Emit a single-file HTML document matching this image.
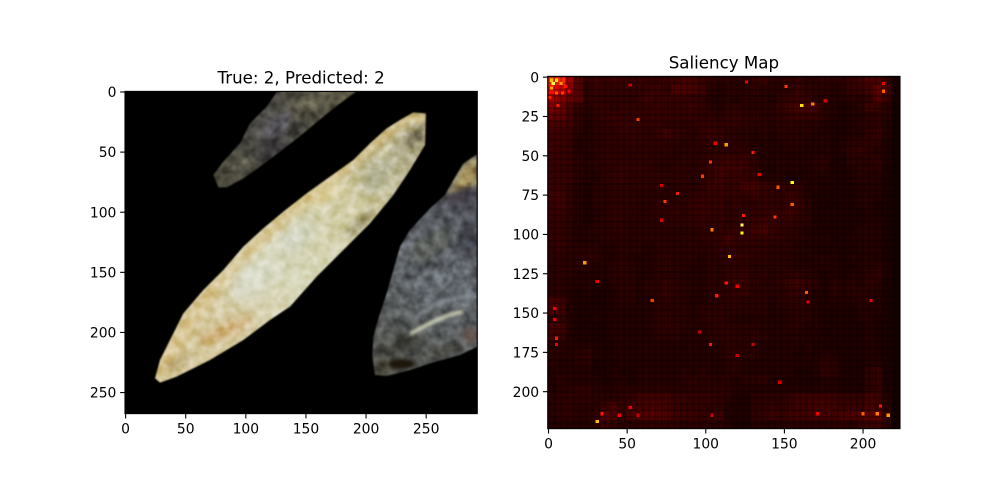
<!DOCTYPE html>
<html lang="en">
<head>
<meta charset="utf-8">
<title>True vs Predicted with Saliency Map</title>
<style>
html,body{margin:0;padding:0;background:#fff;width:1000px;height:500px;overflow:hidden}
svg{display:block}
text{font-family:"DejaVu Sans",sans-serif;fill:#000}
.mottle{mix-blend-mode:overlay}
</style>
</head>
<body>
<svg id="fig" xmlns="http://www.w3.org/2000/svg" width="1000" height="500" viewBox="0 0 1000 500">
<defs>
<clipPath id="clipL"><rect x="125" y="91.4" width="352.3" height="322.2"/></clipPath>
<clipPath id="clipMain"><path d="M135,895 150,908 200,890 300,840 400,780 480,720 540,680 620,590 700,510 780,430 850,345 900,270 945,195 948,100 910,97 870,120 830,145 780,190 730,240 660,290 590,340 520,395 460,445 400,500 340,570 280,630 220,700 180,780 150,840Z"/></clipPath>
<clipPath id="clipTop"><path d="M505,30 745,30 690,70 640,110 580,160 510,215 450,260 400,295 350,322 325,322 310,285 340,245 390,190 420,130 470,80Z"/></clipPath>
<clipPath id="clipRight"><path d="M1102,222 1060,250 1030,300 1005,345 960,385 900,450 870,500 850,570 830,640 810,700 790,770 787,830 795,885 830,888 900,870 960,850 1050,825 1102,800Z"/></clipPath>
<filter id="soft" x="-5%" y="-5%" width="110%" height="110%"><feGaussianBlur stdDeviation="2.5"/></filter>
<filter id="b5" x="-50%" y="-50%" width="200%" height="200%"><feGaussianBlur stdDeviation="5"/></filter>
<filter id="b10" x="-50%" y="-50%" width="200%" height="200%"><feGaussianBlur stdDeviation="10"/></filter>
<filter id="b18" x="-50%" y="-50%" width="200%" height="200%"><feGaussianBlur stdDeviation="18"/></filter>
<filter id="mottleFilter" x="0" y="0" width="100%" height="100%" color-interpolation-filters="sRGB">
<feTurbulence type="fractalNoise" baseFrequency="0.035" numOctaves="3" seed="7"/>
<feColorMatrix type="matrix" values="1.5 0 0 0 -0.25  1.5 0 0 0 -0.25  1.5 0 0 0 -0.25  0 0 0 0 1"/>
</filter>
<linearGradient id="mainGrad" gradientUnits="userSpaceOnUse" x1="135" y1="900" x2="945" y2="100">
<stop offset="0" stop-color="#d2c292"/><stop offset="0.25" stop-color="#d6caa2"/><stop offset="0.45" stop-color="#d8d8bc"/><stop offset="0.7" stop-color="#d0caa0"/><stop offset="0.88" stop-color="#b6b190"/><stop offset="1" stop-color="#a29872"/>
</linearGradient>
<linearGradient id="topGrad" gradientUnits="userSpaceOnUse" x1="320" y1="320" x2="700" y2="40">
<stop offset="0" stop-color="#4a4839"/><stop offset="0.5" stop-color="#484743"/><stop offset="1" stop-color="#55523f"/>
</linearGradient>
<linearGradient id="rightGrad" gradientUnits="userSpaceOnUse" x1="800" y1="880" x2="1100" y2="300">
<stop offset="0" stop-color="#4c4d46"/><stop offset="0.5" stop-color="#5e6368"/><stop offset="1" stop-color="#4c4d54"/>
</linearGradient>
<pattern id="latticePattern" patternUnits="userSpaceOnUse" x="547.73" y="76.37" width="6.29" height="6.29">
<rect x="0" y="0" width="1.6" height="6.29" fill="#000" opacity="0.28"/>
<rect x="0" y="0" width="6.29" height="1.6" fill="#000" opacity="0.28"/>
</pattern>
</defs>

<rect x="0" y="0" width="1000" height="500" fill="#fff"/>

<g clip-path="url(#clipL)">
<rect x="125" y="91.4" width="352.3" height="322.2" fill="#000"/>
<g transform="translate(110,80) scale(0.33333)">
<g filter="url(#soft)">
<g clip-path="url(#clipTop)" style="isolation:isolate">
<rect x="300" y="30" width="460" height="300" fill="url(#topGrad)"/>
<ellipse cx="500" cy="140" rx="60" ry="26" transform="rotate(-42 500 140)" fill="#5c5a62" opacity="0.8" filter="url(#b10)"/>
<ellipse cx="480" cy="210" rx="40" ry="18" transform="rotate(-40 480 210)" fill="#343236" filter="url(#b10)"/>
<ellipse cx="600" cy="70" rx="70" ry="22" transform="rotate(-38 600 70)" fill="#666250" opacity="0.8" filter="url(#b10)"/>
<ellipse cx="380" cy="262" rx="40" ry="9" transform="rotate(-40 380 262)" fill="#7c7a66" opacity="0.7" filter="url(#b5)"/>
<ellipse cx="560" cy="140" rx="40" ry="10" transform="rotate(-40 560 140)" fill="#35342d" filter="url(#b10)"/>
<rect class="mottle" x="300" y="30" width="460" height="300" filter="url(#mottleFilter)" opacity="0.4"/>
</g>
<g clip-path="url(#clipMain)" style="isolation:isolate">
<rect x="120" y="90" width="840" height="830" fill="url(#mainGrad)"/>
<path d="M150,880 C280,620 500,410 900,110" stroke="#d6bf85" stroke-width="36" fill="none" opacity="0.8" filter="url(#b10)"/>
<ellipse cx="350" cy="750" rx="85" ry="20" transform="rotate(-25 350 750)" fill="#cda86c" opacity="0.8" filter="url(#b10)"/>
<ellipse cx="430" cy="600" rx="85" ry="50" transform="rotate(-45 430 600)" fill="#d9dccb" opacity="0.8" filter="url(#b18)"/>
<ellipse cx="560" cy="470" rx="70" ry="32" transform="rotate(-45 560 470)" fill="#cfd3c2" opacity="0.8" filter="url(#b18)"/>
<ellipse cx="650" cy="345" rx="55" ry="16" transform="rotate(-30 650 345)" fill="#e2d3a0" opacity="0.8" filter="url(#b10)"/>
<ellipse cx="800" cy="290" rx="60" ry="32" transform="rotate(-50 800 290)" fill="#aeaf90" opacity="0.85" filter="url(#b10)"/>
<ellipse cx="750" cy="430" rx="60" ry="13" transform="rotate(-45 750 430)" fill="#908868" opacity="0.8" filter="url(#b10)"/>
<ellipse cx="825" cy="210" rx="32" ry="8" transform="rotate(-45 825 210)" fill="#e6e0c0" opacity="0.8" filter="url(#b5)"/>
<ellipse cx="915" cy="175" rx="30" ry="16" transform="rotate(-40 915 175)" fill="#6e6650" filter="url(#b10)"/>
<ellipse cx="920" cy="115" rx="30" ry="14" fill="#d0be86" filter="url(#b5)"/>
<ellipse cx="210" cy="845" rx="50" ry="13" transform="rotate(-30 210 845)" fill="#b8a476" opacity="0.8" filter="url(#b10)"/>
<rect class="mottle" x="120" y="90" width="840" height="830" filter="url(#mottleFilter)" opacity="0.4"/>
</g>
<g clip-path="url(#clipRight)" style="isolation:isolate">
<rect x="780" y="215" width="330" height="680" fill="url(#rightGrad)"/>
<path d="M1105,225 L1060,255 L1010,345 L1105,310Z" fill="#a8955f" filter="url(#b10)"/>
<ellipse cx="1060" cy="350" rx="60" ry="13" transform="rotate(-10 1060 350)" fill="#3c3640" filter="url(#b10)"/>
<ellipse cx="960" cy="500" rx="80" ry="35" transform="rotate(-35 960 500)" fill="#5d605a" opacity="0.8" filter="url(#b10)"/>
<ellipse cx="1000" cy="610" rx="90" ry="45" transform="rotate(-25 1000 610)" fill="#666c72" opacity="0.8" filter="url(#b10)"/>
<ellipse cx="1075" cy="470" rx="28" ry="42" fill="#3e3f46" filter="url(#b10)"/>
<ellipse cx="1085" cy="765" rx="30" ry="20" fill="#6b564f" filter="url(#b10)"/>
<ellipse cx="880" cy="790" rx="60" ry="20" transform="rotate(-30 880 790)" fill="#383933" filter="url(#b10)"/>
<ellipse cx="820" cy="860" rx="24" ry="22" fill="#433f32" filter="url(#b10)"/>
<ellipse cx="1000" cy="810" rx="60" ry="16" transform="rotate(-15 1000 810)" fill="#484943" filter="url(#b10)"/>
<rect class="mottle" x="780" y="215" width="330" height="680" filter="url(#mottleFilter)" opacity="0.4"/>
<path d="M905,730 C950,670 1020,650 1100,650" stroke="#959ea6" stroke-width="8" fill="none" opacity="0.75" filter="url(#b5)"/>
<path d="M900,762 C950,735 1000,705 1060,695" stroke="#dfe2c6" stroke-width="10" fill="none" filter="url(#b5)"/>
<ellipse cx="875" cy="852" rx="40" ry="16" fill="#1c1410" filter="url(#b5)"/>
</g>
</g>
</g>
</g>

<rect x="547.73" y="76.37" width="352.27" height="352.27" fill="#000"/>
<g id="saliencyCells" shape-rendering="crispEdges"></g>
<rect x="547.73" y="76.37" width="352.27" height="352.27" fill="url(#latticePattern)"/>
<g id="saliencyHotspots" shape-rendering="crispEdges"></g>
<g id="axesLayer"></g>

<text x="301.1" y="83.4" font-size="16.67" text-anchor="middle">True: 2, Predicted: 2</text>
<text x="723.9" y="68.3" font-size="16.67" text-anchor="middle">Saliency Map</text>
</svg>

<script>
const leftXTicks = [0, 50, 100, 150, 200, 250];
const leftYTicks = [0, 50, 100, 150, 200, 250];
const rightXTicks = [0, 50, 100, 150, 200];
const rightYTicks = [0, 25, 50, 75, 100, 125, 150, 175, 200];
const leftImageWidth = 293;
const leftImageHeight = 268;
const saliencySize = 224;
const cellColorMax = 130;
const hotColorMax = 100;

const saliencyRows = [
[58,56,28,14,8,10,8,10,9,8,9,8,8,9,10,12,11,9,7,6,7,6,6,8,9,6,6,7,8,6,6,7,6,7,9,10,12,12,8,3],
[50,38,22,14,7,9,8,8,8,8,8,9,9,8,13,13,12,10,6,5,6,6,6,7,6,6,6,7,9,7,6,6,5,6,8,9,11,16,12,3],
[30,24,18,15,7,8,7,7,7,7,9,10,8,9,9,9,8,7,5,5,6,5,6,6,6,5,7,8,9,8,6,5,5,5,6,6,8,14,9,3],
[22,18,12,8,6,8,8,7,8,8,8,8,9,8,8,9,9,8,6,5,7,7,6,6,6,6,8,10,12,12,10,6,5,4,5,6,10,9,6,2],
[17,16,11,7,5,7,8,9,8,8,8,8,8,8,8,8,8,7,7,6,8,8,7,7,6,6,7,8,9,8,8,6,5,4,5,5,6,7,6,2],
[13,12,10,7,5,7,7,8,9,9,8,8,8,7,7,7,7,8,8,8,8,8,7,6,6,6,6,7,6,6,6,5,4,4,5,6,6,7,5,2],
[11,10,9,6,5,6,7,7,8,8,8,7,8,10,8,7,6,8,9,8,7,6,6,5,6,5,6,6,6,6,5,5,4,4,5,5,7,8,5,2],
[10,10,8,5,5,6,7,7,7,8,7,7,7,7,7,6,6,7,8,8,7,7,6,5,5,5,5,6,6,5,5,5,4,5,6,7,7,7,4,2],
[10,9,8,5,5,6,7,7,7,7,7,7,6,7,6,6,6,6,7,7,7,7,7,6,5,5,5,5,5,5,5,5,4,5,7,8,6,5,4,2],
[9,9,8,6,5,6,7,7,7,7,7,7,6,6,6,7,6,7,8,9,10,9,9,7,5,5,5,5,5,5,6,6,4,4,6,6,6,7,4,2],
[9,8,7,6,5,6,7,7,8,8,8,7,6,6,7,7,6,7,9,11,10,10,9,7,5,4,5,5,5,5,6,6,4,4,5,6,6,7,3,2],
[9,9,8,6,5,5,7,8,8,7,7,7,7,7,7,7,6,7,8,10,9,9,8,8,5,5,5,4,4,5,5,5,4,4,5,6,5,5,3,2],
[9,9,7,5,4,6,6,7,7,7,7,7,7,6,6,7,6,7,9,10,8,8,11,11,9,8,8,7,7,5,5,4,4,4,4,5,5,5,3,2],
[10,10,7,5,4,6,6,7,7,7,6,6,6,6,6,6,7,8,8,9,8,8,8,9,8,8,7,9,8,5,4,4,4,4,4,5,5,5,3,2],
[9,10,7,5,4,6,6,7,7,7,6,6,7,7,7,7,8,9,8,9,7,8,7,7,8,8,7,9,9,6,4,4,3,4,4,5,5,4,3,2],
[9,9,7,5,4,5,6,7,7,7,6,6,7,7,8,7,8,9,8,8,7,7,7,8,8,9,8,10,8,6,4,4,4,4,4,4,5,4,3,2],
[8,8,6,5,4,6,6,7,7,6,6,6,6,7,7,7,7,8,7,8,7,7,7,9,10,9,8,8,7,6,4,4,4,4,4,4,5,5,3,2],
[8,8,6,5,5,6,6,6,7,6,6,6,6,6,6,6,6,7,7,8,8,9,8,11,12,9,7,7,6,5,4,4,4,4,4,5,5,5,3,2],
[8,8,6,5,5,5,6,6,6,6,6,6,6,6,6,7,6,7,7,8,11,8,8,8,8,8,7,6,6,5,5,5,4,4,5,5,5,5,3,2],
[7,8,6,6,6,6,5,5,6,6,6,5,6,6,6,6,6,6,6,8,8,7,7,7,7,6,6,6,5,5,4,4,4,4,4,5,5,5,3,2],
[7,7,6,6,7,7,5,5,6,5,5,5,6,7,6,6,6,5,6,7,8,9,8,7,7,6,6,6,5,5,5,5,5,4,5,5,5,5,3,2],
[6,7,6,6,6,5,5,6,7,6,5,5,6,7,6,6,5,5,6,6,7,7,7,6,6,6,6,6,5,5,5,5,5,4,4,5,5,6,4,2],
[6,7,6,5,5,5,5,6,7,6,5,5,6,6,6,5,5,5,6,6,8,8,8,6,7,6,6,7,7,6,5,4,5,4,5,5,6,7,4,2],
[6,6,5,5,5,5,4,6,6,6,5,6,6,8,7,6,5,5,6,6,8,9,8,7,6,6,7,9,10,8,6,4,6,5,6,5,7,6,3,2],
[6,6,5,4,5,4,4,5,6,6,5,6,6,8,7,6,5,5,6,7,7,8,8,6,6,6,6,8,8,7,5,4,6,5,6,6,6,5,3,2],
[11,10,5,4,4,4,4,5,6,6,5,5,6,7,6,6,5,5,6,6,7,7,6,6,6,5,6,7,7,6,5,4,5,5,5,6,6,5,3,2],
[12,11,5,4,4,4,4,5,5,5,5,5,6,6,6,6,5,6,6,7,6,6,6,6,6,5,5,6,6,6,5,4,4,4,4,5,5,5,3,2],
[7,8,5,4,4,5,4,5,5,5,5,5,6,7,6,6,5,6,7,7,6,5,5,5,5,5,5,6,6,6,5,4,4,4,4,5,5,4,3,2],
[11,11,5,4,4,4,4,5,5,5,5,5,6,7,7,6,5,5,6,7,7,6,6,6,5,5,5,6,6,5,5,4,4,4,4,4,5,4,3,2],
[10,9,5,4,4,4,4,5,5,5,5,5,6,6,6,5,5,5,6,7,7,6,6,7,6,5,5,5,5,5,5,4,4,4,4,4,5,4,3,2],
[6,6,5,5,5,5,4,5,5,5,5,5,5,5,5,5,5,5,5,6,7,6,6,6,5,5,5,5,5,5,4,4,4,4,4,4,5,4,3,2],
[6,6,5,6,7,5,4,5,5,5,5,5,5,5,5,5,5,5,5,5,7,7,6,6,5,5,5,5,4,5,4,5,5,4,4,4,5,4,3,2],
[6,5,5,6,6,4,4,4,5,5,5,5,5,5,5,5,5,5,5,5,6,6,5,5,5,5,5,5,5,5,5,7,6,4,4,4,5,5,3,2],
[5,5,5,5,5,4,4,5,4,4,5,5,5,5,5,6,5,6,5,5,6,6,5,5,5,5,5,5,4,4,5,7,6,4,4,4,7,8,3,2],
[5,6,5,5,5,5,4,5,5,4,5,5,5,5,5,6,7,6,6,6,6,5,6,6,7,5,5,4,4,4,4,5,5,4,4,4,7,8,3,2],
[5,6,6,7,7,6,5,6,6,6,6,6,6,6,6,6,6,6,6,7,6,5,5,5,5,5,5,5,5,5,5,5,5,4,4,4,7,8,4,2],
[6,7,7,7,7,6,6,6,7,8,11,11,10,11,9,9,8,8,8,7,6,4,4,6,6,7,6,8,10,10,10,10,9,8,8,8,11,10,5,2],
[6,7,7,6,6,6,9,12,8,11,11,12,12,11,9,8,8,8,7,7,5,4,4,7,7,8,7,9,10,10,11,11,10,9,10,9,12,10,6,2],
[6,7,7,6,6,8,14,12,8,12,13,14,13,13,10,10,9,8,8,10,5,4,4,7,8,10,8,10,10,11,12,11,11,12,13,13,15,16,8,2],
[5,5,5,5,5,6,9,7,6,6,7,7,7,7,7,6,6,6,6,6,5,3,3,5,5,5,5,6,6,6,6,6,6,7,6,8,9,10,6,2]
];

const hotColumns = [3,5,2,9,6,57,103,98,72,74,82,104,106,52,72,126,151,161,168,176,213,213,113,130,155,146,155,144,123,123,134,124,23,31,66,4,4,5,5,103,107,31,34,52,45,57,104,96,115,113,120,164,165,205,120,147,200,209,216,211,171,130,2,8,5,11,13,1];
const hotRows = [4,2,7,10,18,27,54,63,69,79,74,97,42,5,91,3,6,18,17,15,9,4,43,48,67,70,81,89,94,99,62,88,118,130,142,147,154,166,170,170,139,219,214,210,215,215,215,162,114,131,133,137,143,142,177,194,214,214,215,209,214,170,2,4,10,6,9,13];
const hotValues = [80,70,60,45,40,45,45,45,30,45,40,55,35,30,30,35,45,70,55,30,50,35,60,40,75,50,50,45,85,75,35,40,60,35,45,35,35,40,35,40,40,65,40,35,35,30,30,30,65,40,35,50,35,35,30,30,50,55,60,40,35,30,65,60,50,40,35,40];

const SVG_NS = 'http://www.w3.org/2000/svg';
const leftAxes = { x: 125, y: 91.4, w: 352.27, h: 322.2 };
const rightAxes = { x: 547.73, y: 76.37, w: 352.27, h: 352.27 };

function leftX(v) { return leftAxes.x + (v + 0.5) * leftAxes.w / leftImageWidth; }
function leftY(v) { return leftAxes.y + (v + 0.5) * leftAxes.h / leftImageHeight; }
function rightX(v) { return rightAxes.x + (v + 0.5) * rightAxes.w / saliencySize; }
function rightY(v) { return rightAxes.y + (v + 0.5) * rightAxes.h / saliencySize; }

function hotColor(value, max) {
  const v = Math.max(0, Math.min(1, value / max));
  const r = Math.min(1, 0.0416 + v * 0.9584 / 0.3651);
  const g = Math.max(0, Math.min(1, (v - 0.3651) / 0.3811));
  const b = Math.max(0, Math.min(1, (v - 0.7462) / 0.2538));
  return 'rgb(' + Math.round(r * 255) + ',' + Math.round(g * 255) + ',' + Math.round(b * 255) + ')';
}

function makeEl(tag, parent) {
  const el = document.createElementNS(SVG_NS, tag);
  parent.appendChild(el);
  return el;
}

const cellLayer = document.getElementById('saliencyCells');
const hotspotLayer = document.getElementById('saliencyHotspots');
const cellSpan = saliencySize / saliencyRows.length;

saliencyRows.forEach(function (row, r) {
  row.forEach(function (value, c) {
    const rect = makeEl('rect', cellLayer);
    
    
    const x0 = rightX(c * cellSpan - 0.5);
    const y0 = rightY(r * cellSpan - 0.5);
    rect.setAttribute('x', x0);
    rect.setAttribute('y', y0);
    rect.setAttribute('width', rightX((c + 1) * cellSpan - 0.5) - x0);
    rect.setAttribute('height', rightY((r + 1) * cellSpan - 0.5) - y0);
    rect.setAttribute('fill', hotColor(value, cellColorMax));
  });
});

hotValues.forEach(function (value, i) {
  const rect = makeEl('rect', hotspotLayer);
  
  
  const x0 = rightX(hotColumns[i] - 1);
  const y0 = rightY(hotRows[i] - 1);
  rect.setAttribute('x', x0);
  rect.setAttribute('y', y0);
  rect.setAttribute('width', rightX(hotColumns[i] + 1) - x0);
  rect.setAttribute('height', rightY(hotRows[i] + 1) - y0);
  rect.setAttribute('fill', hotColor(value, hotColorMax));
});

const axesLayer = document.getElementById('axesLayer');

function drawAxes(axes, xTicks, yTicks, xFn, yFn) {
  const frame = makeEl('rect', axesLayer);
  
  
  frame.setAttribute('x', axes.x);
  frame.setAttribute('y', axes.y);
  frame.setAttribute('width', axes.w);
  frame.setAttribute('height', axes.h);
  frame.setAttribute('fill', 'none');
  frame.setAttribute('stroke', '#000');
  frame.setAttribute('stroke-width', '1.11');

  const bottom = axes.y + axes.h;
  xTicks.forEach(function (t) {
    const px = xFn(t);
    const tick = makeEl('line', axesLayer);
    
    
    tick.setAttribute('x1', px);
    tick.setAttribute('x2', px);
    tick.setAttribute('y1', bottom);
    tick.setAttribute('y2', bottom + 4.86);
    tick.setAttribute('stroke', '#000');
    tick.setAttribute('stroke-width', '1.11');
    const label = makeEl('text', axesLayer);
    
    
    label.setAttribute('x', px);
    label.setAttribute('y', bottom + 19.9);
    label.setAttribute('font-size', '13.89');
    label.setAttribute('text-anchor', 'middle');
    label.textContent = String(t);
  });
  yTicks.forEach(function (t) {
    const py = yFn(t);
    const tick = makeEl('line', axesLayer);
    
    
    tick.setAttribute('x1', axes.x - 4.86);
    tick.setAttribute('x2', axes.x);
    tick.setAttribute('y1', py);
    tick.setAttribute('y2', py);
    tick.setAttribute('stroke', '#000');
    tick.setAttribute('stroke-width', '1.11');
    const label = makeEl('text', axesLayer);
    
    
    label.setAttribute('x', axes.x - 8.6);
    label.setAttribute('y', py + 5.1);
    label.setAttribute('font-size', '13.89');
    label.setAttribute('text-anchor', 'end');
    label.textContent = String(t);
  });
}

drawAxes(leftAxes, leftXTicks, leftYTicks, leftX, leftY);
drawAxes(rightAxes, rightXTicks, rightYTicks, rightX, rightY);
</script>
</body>
</html>
